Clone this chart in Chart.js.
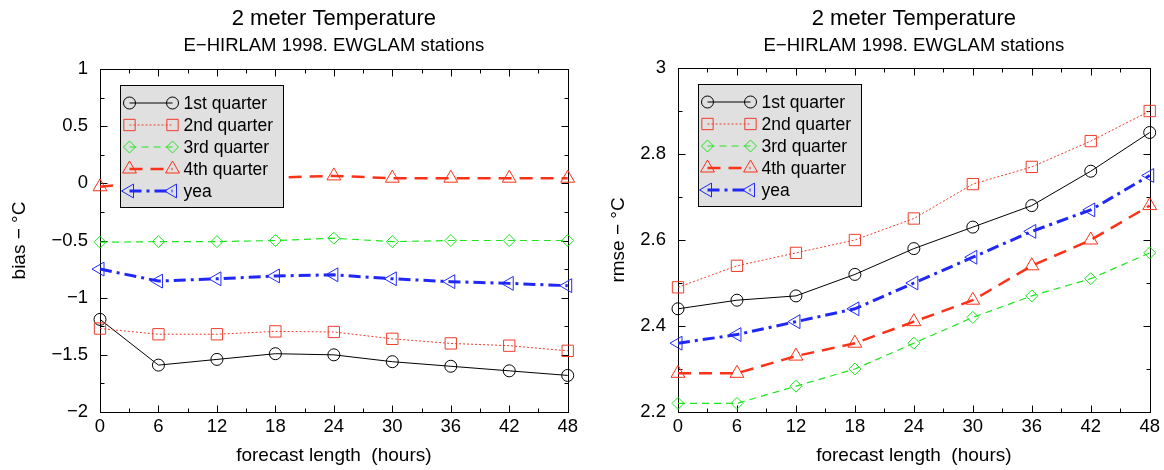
<!DOCTYPE html>
<html>
<head>
<meta charset="utf-8">
<script src="https://cdn.jsdelivr.net/npm/chart.js@4.4.1/dist/chart.umd.min.js"></script>
<style>
  html, body { margin: 0; padding: 0; background: #fff; }
  #wrap { position: relative; width: 1164px; height: 470px; overflow: hidden; }
  canvas { position: absolute; top: 0; }
  #cBias { left: 0; }
  #cRmse { left: 582px; }
</style>
</head>
<body>
<div id="wrap">
  <canvas id="cBias" width="582" height="470"></canvas>
  <canvas id="cRmse" width="582" height="470"></canvas>
</div>
<script>
// forecast lengths (hours) and series names
const hours = [0, 6, 12, 18, 24, 30, 36, 42, 48];
const seriesNames = ['1st quarter', '2nd quarter', '3rd quarter', '4th quarter', 'yea'];

// bias of 2 m temperature (°C)
const bias1st  = [-1.19, -1.59, -1.54, -1.49, -1.50, -1.56, -1.60, -1.64, -1.68];
const bias2nd  = [-1.27, -1.32, -1.32, -1.295, -1.30, -1.36, -1.40, -1.42, -1.465];
const bias3rd  = [-0.515, -0.51, -0.51, -0.50, -0.48, -0.51, -0.50, -0.50, -0.50];
const bias4th  = [-0.03, 0.02, 0.04, 0.05, 0.065, 0.045, 0.045, 0.045, 0.045];
const biasYear = [-0.75, -0.855, -0.835, -0.81, -0.80, -0.835, -0.86, -0.875, -0.895];

// rmse of 2 m temperature (°C)
const rmse1st  = [2.44, 2.46, 2.47, 2.52, 2.58, 2.63, 2.68, 2.76, 2.85];
const rmse2nd  = [2.49, 2.54, 2.57, 2.60, 2.65, 2.73, 2.77, 2.83, 2.90];
const rmse3rd  = [2.22, 2.22, 2.26, 2.30, 2.36, 2.42, 2.47, 2.51, 2.57];
const rmse4th  = [2.29, 2.29, 2.33, 2.36, 2.41, 2.46, 2.54, 2.60, 2.68];
const rmseYear = [2.36, 2.38, 2.41, 2.44, 2.50, 2.56, 2.62, 2.67, 2.75];

// labelled axis ticks
const xTicks    = [0, 6, 12, 18, 24, 30, 36, 42, 48];
const biasTicks = [-2, -1.5, -1, -0.5, 0, 0.5, 1];
const rmseTicks = [2.2, 2.4, 2.6, 2.8, 3];

// line / marker look of each series
const seriesStyles = [
  { color: '#000000', width: 1,   dash: [],            point: 'circle',   radius: 6, rotation: 0 },
  { color: '#f03c28', width: 1,   dash: [2, 2],        point: 'rect',     radius: 8, rotation: 0 },
  { color: '#1ee61e', width: 1.2, dash: [7, 5],        point: 'rectRot',  radius: 6, rotation: 0 },
  { color: '#fa3218', width: 2.5, dash: [13, 8],       point: 'triangle', radius: 8, rotation: 0 },
  { color: '#2028f8', width: 3,   dash: [12, 5, 3, 5], point: 'triangle', radius: 8, rotation: -90 }
];

const FONT = '"Liberation Sans", Arial, Helvetica, sans-serif';
Chart.defaults.font.family = FONT;
Chart.defaults.color = '#000';

function fmtTick(v) {
  return (Math.round(v * 100) / 100).toString().replace('-', '\u2212');
}
function midpoints(arr) {
  const out = [];
  for (let i = 0; i < arr.length - 1; i++) out.push((arr[i] + arr[i + 1]) / 2);
  return out;
}

function drawMarker(ctx, st, x, y) {
  const r = st.radius;
  let a = st.rotation * Math.PI / 180;
  ctx.beginPath();
  if (st.point === 'circle') {
    ctx.arc(x, y, r, 0, 2 * Math.PI);
  } else if (st.point === 'rect') {
    const s = Math.SQRT1_2 * r;
    ctx.rect(x - s, y - s, 2 * s, 2 * s);
  } else if (st.point === 'rectRot') {
    ctx.moveTo(x - r, y); ctx.lineTo(x, y - r); ctx.lineTo(x + r, y); ctx.lineTo(x, y + r);
    ctx.closePath();
  } else {
    ctx.moveTo(x + Math.sin(a) * r, y - Math.cos(a) * r);
    a += 2 * Math.PI / 3;
    ctx.lineTo(x + Math.sin(a) * r, y - Math.cos(a) * r);
    a += 2 * Math.PI / 3;
    ctx.lineTo(x + Math.sin(a) * r, y - Math.cos(a) * r);
    ctx.closePath();
  }
  ctx.stroke();
}

// box frame with inward ticks on all four sides
const framePlugin = {
  id: 'frame',
  beforeDatasetsDraw(chart, args, opts) {
    const { ctx, chartArea: a, scales: { x, y } } = chart;
    const L = Math.round(a.left) + 0.5, R = Math.round(a.right) + 0.5;
    const T = Math.round(a.top) + 0.5, B = Math.round(a.bottom) + 0.5;
    ctx.save();
    ctx.strokeStyle = '#000';
    ctx.lineWidth = 1;
    ctx.setLineDash([]);
    ctx.beginPath();
    const xt = (v, len) => {
      const px = Math.round(x.getPixelForValue(v)) + 0.5;
      ctx.moveTo(px, B); ctx.lineTo(px, B - len);
      ctx.moveTo(px, T); ctx.lineTo(px, T + len);
    };
    const yt = (v, len) => {
      const py = Math.round(y.getPixelForValue(v)) + 0.5;
      ctx.moveTo(L, py); ctx.lineTo(L + len, py);
      ctx.moveTo(R, py); ctx.lineTo(R - len, py);
    };
    xTicks.forEach(v => xt(v, 7));
    midpoints(xTicks).forEach(v => xt(v, 4));
    opts.yTicks.forEach(v => yt(v, 7));
    midpoints(opts.yTicks).forEach(v => yt(v, 4));
    ctx.stroke();
    ctx.strokeRect(L, T, R - L, B - T);
    ctx.restore();
  }
};

// key box in the upper left of the plot
const keyPlugin = {
  id: 'keyBox',
  afterDatasetsDraw(chart, args, opts) {
    const { ctx, chartArea: a } = chart;
    const bx = Math.round(a.left + opts.offsetX) + 0.5;
    const by = Math.round(a.top + opts.offsetY) + 0.5;
    ctx.save();
    ctx.fillStyle = '#e0e0e0';
    ctx.fillRect(bx, by, opts.width, opts.height);
    ctx.strokeStyle = '#000';
    ctx.lineWidth = 1;
    ctx.setLineDash([]);
    ctx.strokeRect(bx, by, opts.width, opts.height);
    chart.data.datasets.forEach((ds, i) => {
      const st = seriesStyles[i];
      const ry = by + 17.5 + 22 * i;
      const x1 = bx + opts.sampleX1, x2 = bx + opts.sampleX2;
      ctx.strokeStyle = st.color;
      ctx.lineWidth = st.width;
      ctx.setLineDash(st.dash);
      ctx.beginPath();
      ctx.moveTo(x1, ry); ctx.lineTo(x2, ry);
      ctx.stroke();
      ctx.setLineDash([]);
      ctx.lineWidth = 1;
      drawMarker(ctx, st, x1, ry);
      drawMarker(ctx, st, x2, ry);
      ctx.fillStyle = '#000';
      ctx.font = '17.5px ' + FONT;
      ctx.textAlign = 'left';
      ctx.textBaseline = 'middle';
      ctx.fillText(ds.label, bx + opts.textX, ry + 1);
    });
    ctx.restore();
  }
};

function makeChart(id, series, cfg) {
  const datasets = series.map((vals, i) => {
    const st = seriesStyles[i];
    return {
      label: seriesNames[i],
      data: hours.map((h, k) => ({ x: h, y: vals[k] })),
      borderColor: st.color,
      borderWidth: st.width,
      borderDash: st.dash,
      pointStyle: st.point,
      pointRadius: st.radius,
      pointHoverRadius: st.radius,
      pointRotation: st.rotation,
      pointBorderColor: st.color,
      pointBackgroundColor: 'rgba(0,0,0,0)',
      pointBorderWidth: 1,
      fill: false,
      tension: 0,
      clip: false,
      order: series.length - 1 - i
    };
  });
  return new Chart(document.getElementById(id), {
    type: 'line',
    data: { datasets },
    plugins: [framePlugin, keyPlugin],
    options: {
      responsive: false,
      animation: false,
      devicePixelRatio: 1,
      events: [],
      layout: { padding: { left: 0, right: cfg.padRight, top: 0, bottom: 0 } },
      plugins: {
        legend: { display: false },
        tooltip: { enabled: false },
        title: {
          display: true, text: '2 meter Temperature', fullSize: false,
          font: { size: 22, weight: 'normal' }, color: '#000',
          padding: { top: 6, bottom: 0 }
        },
        subtitle: {
          display: true, text: 'E\u2212HIRLAM 1998. EWGLAM stations', fullSize: false,
          font: { size: 18.5, weight: 'normal' }, color: '#000',
          padding: { top: 2.5, bottom: cfg.subPadBottom }
        },
        frame: { yTicks: cfg.yTicks },
        keyBox: { offsetX: 20, offsetY: 16, width: 163, height: 122, sampleX1: 9, sampleX2: 52, textX: 63 }
      },
      scales: {
        x: {
          type: 'linear', min: 0, max: 48,
          afterBuildTicks: s => { s.ticks = xTicks.map(v => ({ value: v })); },
          afterFit: s => { s.height = cfg.xHeight; },
          grid: { display: false, drawTicks: false },
          border: { display: false },
          ticks: { padding: 4, autoSkip: false, maxRotation: 0, font: { size: 18.5 }, color: '#000', callback: v => fmtTick(v) },
          title: { display: true, text: 'forecast length  (hours)', font: { size: 19 }, color: '#000', padding: { top: 0, bottom: 3 } }
        },
        y: {
          type: 'linear', min: cfg.yMin, max: cfg.yMax,
          afterBuildTicks: s => { s.ticks = cfg.yTicks.map(v => ({ value: v })); },
          afterFit: s => { s.width = cfg.yWidth; },
          grid: { display: false, drawTicks: false },
          border: { display: false },
          ticks: { padding: 12, autoSkip: false, font: { size: 18.5 }, color: '#000', callback: v => fmtTick(v) },
          title: { display: true, text: cfg.yTitle, font: { size: 19 }, color: '#000', padding: { top: cfg.yTitlePad, bottom: 0 } }
        }
      }
    }
  });
}

makeChart('cBias', [bias1st, bias2nd, bias3rd, bias4th, biasYear], {
  yMin: -2, yMax: 1, yTicks: biasTicks, yTitle: 'bias \u2212 \u00B0C',
  yWidth: 100, padRight: 12, xHeight: 58, subPadBottom: 11.9, yTitlePad: 8.6
});
makeChart('cRmse', [rmse1st, rmse2nd, rmse3rd, rmse4th, rmseYear], {
  yMin: 2.2, yMax: 3, yTicks: rmseTicks, yTitle: 'rmse \u2212 \u00B0C',
  yWidth: 96, padRight: 13, xHeight: 58, subPadBottom: 10.9, yTitlePad: 24.9
});
</script>
</body>
</html>
